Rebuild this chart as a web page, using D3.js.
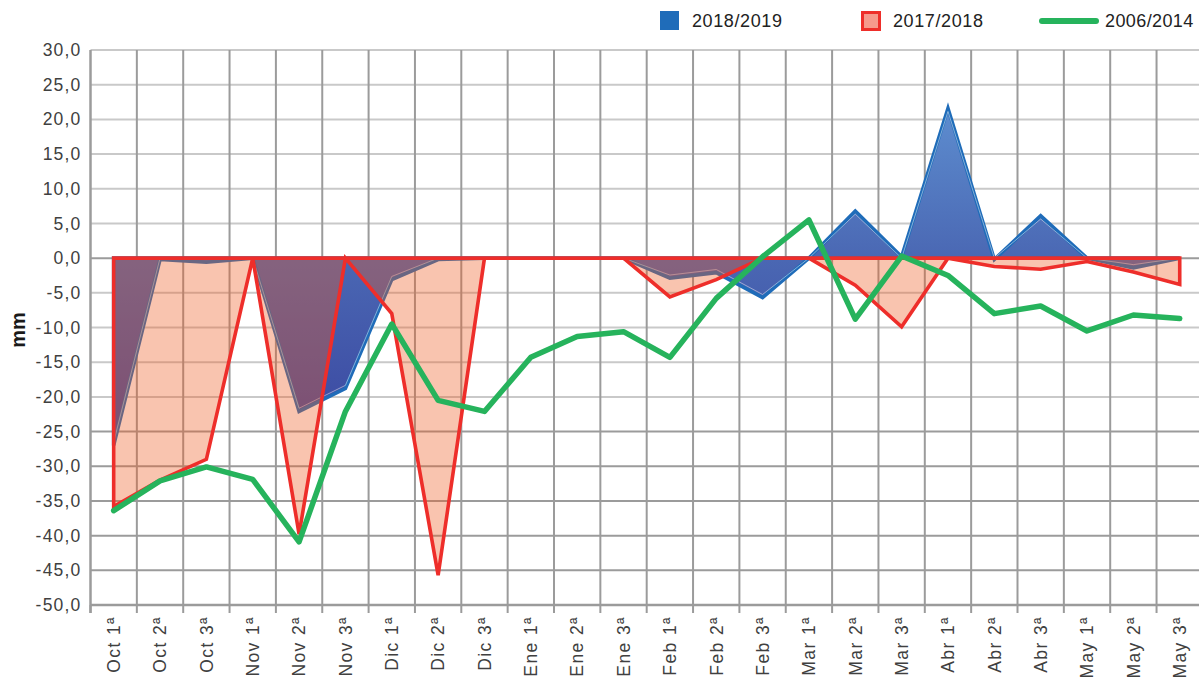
<!DOCTYPE html>
<html>
<head>
<meta charset="utf-8">
<script src="https://cdn.jsdelivr.net/npm/d3@7/dist/d3.min.js"></script>
<style>
  html, body { margin: 0; padding: 0; background: #fff; }
  svg { display: block; font-family: "Liberation Sans", Arial, sans-serif; }
</style>
</head>
<body>
<svg id="chart" width="1199" height="677"></svg>
<script>
// Ten-day periods, October to May
const months = ["Oct", "Nov", "Dic", "Ene", "Feb", "Mar", "Abr", "May"];
const categories = months.flatMap(m => [m + " 1ª", m + " 2ª", m + " 3ª"]);

// Rainfall deviation (mm) per period
const season2018 = [-27.0, -0.2, -0.6, 0, -22.1, -18.8, -3.1, -0.2, 0, 0, 0, 0,
                    -2.9, -2.1, -5.7, 0, 6.8, 0.2, 21.6, -0.2, 6.1, 0, -1.4, 0];
const season2017 = [-35.8, -32.0, -29.0, 0, -39.8, 0, -8.0, -45.7, 0, 0, 0, 0,
                    -5.6, -3.1, 0, 0, -3.9, -9.9, 0, -1.2, -1.6, -0.5, -2.0, -3.8];
const period0614 = [-36.4, -32.1, -30.1, -31.9, -40.9, -22.1, -9.5, -20.5, -22.1, -14.3, -11.3, -10.6,
                    -14.3, -5.8, 0.2, 5.5, -8.8, 0.3, -2.5, -8.0, -6.9, -10.5, -8.2, -8.7];

const yTicks = [30, 25, 20, 15, 10, 5, 0, -5, -10, -15, -20, -25, -30, -35, -40, -45, -50];
const seriesNames = ["2018/2019", "2017/2018", "2006/2014"];

const svg = d3.select("#chart");
const plotL = 90.5, plotR = 1202.9, plotT = 50, plotB = 605;

const x = d3.scaleBand().domain(categories).range([plotL, plotR]).padding(0);
const cx = c => x(c) + x.bandwidth() / 2;
const y = d3.scaleLinear().domain([-50, 30]).range([plotB, plotT]);

const fmt = d3.formatLocale({ decimal: ",", thousands: ".", grouping: [3], currency: ["", ""], minus: "-" }).format(".1f");

const labelColor = "#404040";

// Gradient for the 2018/2019 area
const defs = svg.append("defs");
const grad = defs.append("linearGradient")
  .attr("id", "blueGrad").attr("gradientUnits", "userSpaceOnUse")
  .attr("x1", 0).attr("x2", 0)
  .attr("y1", y(d3.max(season2018))).attr("y2", y(d3.min(season2018)));
grad.append("stop").attr("offset", "0%").attr("stop-color", "#5d8dcf");
grad.append("stop").attr("offset", "45%").attr("stop-color", "#4a67b3");
grad.append("stop").attr("offset", "100%").attr("stop-color", "#3a46a0");

// Horizontal grid
const grid = svg.append("g");
grid.selectAll("line.h").data(yTicks.filter(v => v !== -50)).join("line")
  .attr("x1", plotL).attr("x2", 1199)
  .attr("y1", d => y(d)).attr("y2", d => y(d))
  .attr("stroke", d => (d === 0 || d <= -25) ? "#9b9b9b" : "#c9c9c9")
  .attr("stroke-width", 2);

// Vertical grid at period boundaries
const edges = categories.map(c => x(c)).concat([plotR]);
grid.selectAll("line.v").data(edges.slice(1)).join("line")
  .attr("x1", d => d).attr("x2", d => d)
  .attr("y1", plotT).attr("y2", plotB)
  .attr("stroke", "#9b9b9b").attr("stroke-width", 2);

// Axes
const xAxis = svg.append("g").attr("transform", `translate(0,${plotB})`)
  .call(d3.axisBottom(x).tickSize(0).tickFormat(""));
xAxis.select(".domain").remove();
xAxis.append("line").attr("x1", plotL).attr("x2", 1199).attr("y1", 0).attr("y2", 0)
  .attr("stroke", "#9b9b9b").attr("stroke-width", 2.5);
xAxis.selectAll("line.tk").data(edges).join("line").attr("class", "tk")
  .attr("x1", d => d).attr("x2", d => d).attr("y1", 0).attr("y2", 8)
  .attr("stroke", "#9b9b9b").attr("stroke-width", 2);

svg.append("line").attr("x1", plotL).attr("x2", plotL).attr("y1", plotT).attr("y2", plotB + 8)
  .attr("stroke", "#9b9b9b").attr("stroke-width", 2.5);

const yAxis = svg.append("g").attr("transform", `translate(${plotL},0)`)
  .call(d3.axisLeft(y).tickValues(yTicks).tickSize(0).tickPadding(9).tickFormat(fmt));
yAxis.select(".domain").remove();
yAxis.selectAll("text")
  .attr("font-size", 17.5).attr("fill", labelColor).attr("letter-spacing", "1.2px")
  .attr("font-family", "\"Liberation Sans\", Arial, sans-serif");

// X labels, rotated
svg.append("g").selectAll("text").data(categories).join("text")
  .attr("transform", d => `translate(${cx(d)},616) rotate(-90)`)
  .attr("dy", "0.36em").attr("text-anchor", "end")
  .attr("font-size", 17.5).attr("fill", labelColor).attr("letter-spacing", "1.4px")
  .text(d => d);

// Y title
svg.append("text").attr("transform", "translate(18,330) rotate(-90)")
  .attr("dy", "0.35em").attr("text-anchor", "middle")
  .attr("font-size", 20).attr("font-weight", "bold").attr("fill", "#1a1a1a").text("mm");

// Area builder from zero baseline
const areaOf = vals => d3.area()
  .x((d, i) => cx(categories[i]))
  .y0(y(0)).y1(d => y(d))(vals) + "";

// 2018/2019 area
svg.append("path").attr("d", areaOf(season2018))
  .attr("fill", "url(#blueGrad)").attr("stroke", "#1f6cb9").attr("stroke-width", 3.6)
  .attr("stroke-linejoin", "miter");

// inner highlight along the 2018/2019 edge
const inset = d => {
  const off = Math.min(3.2, Math.abs(y(d) - y(0)));
  return y(d) + (d > 0 ? off : -off);
};
svg.append("path")
  .attr("d", d3.line().x((d, i) => cx(categories[i])).y(inset)(season2018))
  .attr("fill", "none").attr("stroke", "#ffffff").attr("stroke-opacity", 0.45).attr("stroke-width", 1);

// 2017/2018 translucent area with red outline
svg.append("path").attr("d", areaOf(season2017))
  .attr("fill", "#ee5c20").attr("fill-opacity", 0.36)
  .attr("stroke", "#ee2e2a").attr("stroke-width", 3.6).attr("stroke-linejoin", "miter");

// 2006/2014 line
svg.append("path")
  .attr("d", d3.line().x((d, i) => cx(categories[i])).y(d => y(d))(period0614))
  .attr("fill", "none").attr("stroke", "#26b35c").attr("stroke-width", 5.5)
  .attr("stroke-linejoin", "round").attr("stroke-linecap", "round");

// Legend
const lg = svg.append("g").attr("font-size", 18).attr("fill", "#222");
lg.append("rect").attr("x", 660).attr("y", 11).attr("width", 19).attr("height", 19).attr("fill", "#1f6cb9");
lg.append("text").attr("x", 692).attr("y", 21).attr("dy", "0.36em").attr("letter-spacing", "0.6px").text(seriesNames[0]);
lg.append("rect").attr("x", 862.5).attr("y", 12.5).attr("width", 17).attr("height", 17)
  .attr("fill", "#f6998c").attr("stroke", "#ee2e2a").attr("stroke-width", 3);
lg.append("text").attr("x", 893).attr("y", 21).attr("dy", "0.36em").attr("letter-spacing", "0.6px").text(seriesNames[1]);
lg.append("line").attr("x1", 1042).attr("x2", 1096).attr("y1", 21).attr("y2", 21)
  .attr("stroke", "#26b35c").attr("stroke-width", 6).attr("stroke-linecap", "round");
lg.append("text").attr("x", 1105).attr("y", 21).attr("dy", "0.36em").attr("letter-spacing", "0.4px").text(seriesNames[2]);
</script>
</body>
</html>
